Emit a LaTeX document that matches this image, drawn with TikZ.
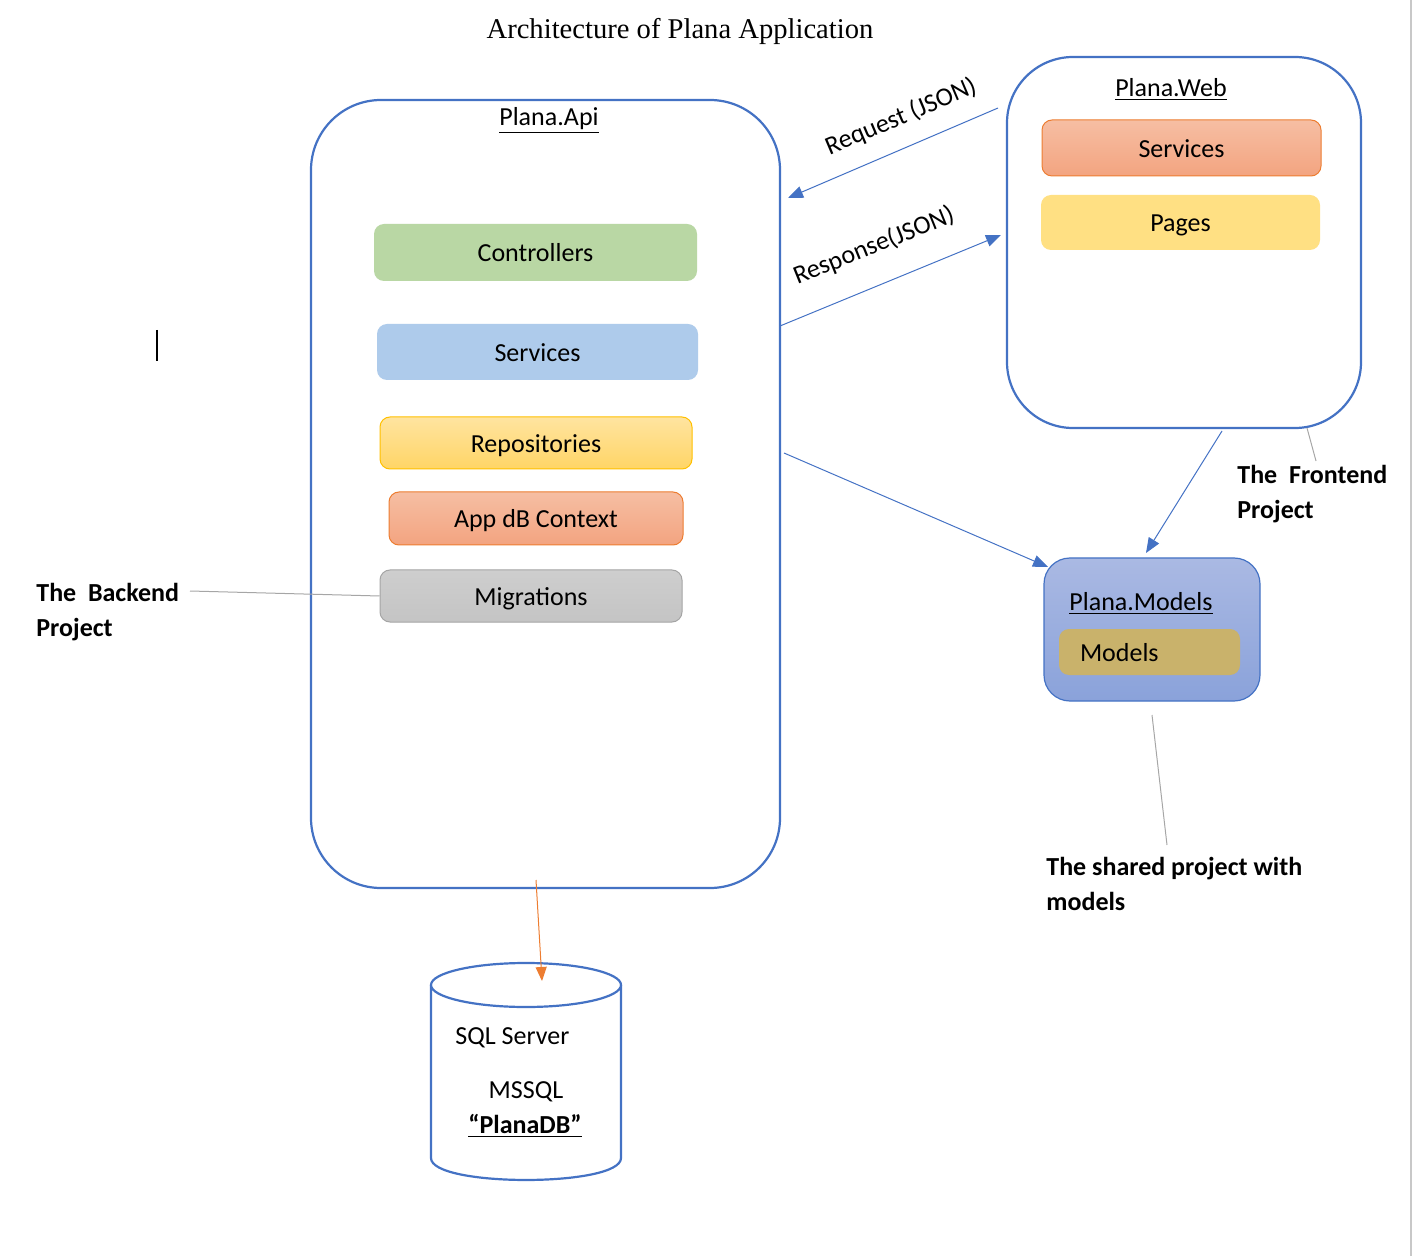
\documentclass[tikz,border=0pt]{standalone}
\usepackage{fontspec}
\setmainfont{Carlito}
\newfontfamily\titlefont{Liberation Serif}
\usetikzlibrary{arrows.meta,calc}

\definecolor{frameblue}{RGB}{68,114,196}
\definecolor{ctrlgreen}{RGB}{185,215,164}
\definecolor{svcblue}{RGB}{174,203,235}
\definecolor{repotop}{RGB}{255,228,160}
\definecolor{repobot}{RGB}{255,213,102}
\definecolor{repoedge}{RGB}{255,192,0}
\definecolor{ctxtop}{RGB}{246,190,163}
\definecolor{ctxbot}{RGB}{243,164,128}
\definecolor{ctxedge}{RGB}{237,125,49}
\definecolor{migtop}{RGB}{206,206,206}
\definecolor{migbot}{RGB}{196,196,196}
\definecolor{migedge}{RGB}{165,165,165}
\definecolor{pagesyellow}{RGB}{255,224,131}
\definecolor{modtop}{RGB}{170,185,227}
\definecolor{modbot}{RGB}{138,162,218}
\definecolor{modtan}{RGB}{201,178,107}
\definecolor{dborange}{RGB}{237,125,49}
\definecolor{calloutgray}{RGB}{166,166,166}
\definecolor{pagegray}{RGB}{200,200,200}

\begin{document}
\begin{tikzpicture}[x=0.5pt,y=-0.5pt,
  project/.style={draw=frameblue, line width=1.1pt, fill=white, inner sep=0pt},
  layer/.style={rounded corners=5pt, inner sep=0pt, line width=0.5pt,
    font=\fontsize{13}{15}\selectfont, text height=9.5pt, text depth=0pt},
  title/.style={font=\fontsize{13}{15}\selectfont, inner sep=0pt, text height=9.5pt, text depth=0pt},
  flow/.style={draw=frameblue, line width=0.5pt, -{Triangle[length=7.5pt,width=6pt]}},
  dbflow/.style={draw=dborange, line width=0.5pt, -{Triangle[length=7pt,width=5.5pt]}},
  callout/.style={draw=calloutgray, line width=0.5pt},
  note/.style={font=\bfseries\fontsize{13}{17.5}\selectfont, align=left, anchor=west, inner sep=0pt},
  flowlabel/.style={font=\fontsize{13}{15}\selectfont, inner sep=0pt}
]
\useasboundingbox (0,0) rectangle (1413,1256);

% page edge
\draw[pagegray, line width=1pt] (1411,0) -- (1411,1256);

% heading
\node[inner sep=0pt, font=\titlefont\fontsize{14.3}{16}\selectfont] (heading) at (680,31) {Architecture of Plana Application};

% text cursor
\draw[black, line width=1pt] (157,330) -- (157,361);

% ---------- backend project ----------
\node[project, rounded corners=35pt, minimum width=234.5pt, minimum height=394pt] (api) at (545.5,494) {};
\node[title] (apititle) at (549,116) {\underline{Plana.Api}};
\node[layer, fill=ctrlgreen, minimum width=161.5pt, minimum height=28.5pt] (ctrl) at (535.5,252.5) {Controllers};
\node[layer, fill=svcblue, minimum width=160.5pt, minimum height=28pt] (svc) at (537.5,352) {Services};
\node[layer, draw=repoedge, top color=repotop, bottom color=repobot, minimum width=156pt, minimum height=26pt] (repo) at (536,443) {Repositories};
\node[layer, draw=ctxedge, top color=ctxtop, bottom color=ctxbot, minimum width=147pt, minimum height=26.5pt] (ctx) at (536,518.5) {App dB Context};
\node[layer, draw=migedge, top color=migtop, bottom color=migbot, minimum width=151pt, minimum height=26pt] (mig) at (531,596) {Migrations};

% ---------- frontend project ----------
\node[project, rounded corners=33pt, minimum width=177pt, minimum height=185.5pt] (web) at (1184,242.5) {};
\node[title] (webtitle) at (1171,87) {\underline{Plana.Web}};
\node[layer, draw=ctxedge, top color=ctxtop, bottom color=ctxbot, minimum width=139.5pt, minimum height=28pt] (websvc) at (1181.5,148) {Services};
\node[layer, fill=pagesyellow, minimum width=139.5pt, minimum height=27.5pt] (pages) at (1180.5,222.5) {Pages};

% ---------- shared models project ----------
\node[draw=frameblue, line width=0.6pt, rounded corners=13pt, top color=modtop, bottom color=modbot, inner sep=0pt, minimum width=108pt, minimum height=71.5pt] (models) at (1152,629.5) {};
\node[title] (modtitle) at (1141,601) {\underline{Plana.Models}};
\node[layer, fill=modtan, minimum width=90.5pt, minimum height=23pt, text width=69.5pt, inner xsep=10.5pt, align=left] (modinner) at (1149.5,652) {Models};

% ---------- database ----------
\draw[frameblue, line width=1.1pt, fill=white]
  (431,985) -- (431,1158) .. controls (431,1187.3) and (621,1187.3) .. (621,1158) -- (621,985);
\draw[frameblue, line width=1.1pt, fill=white] (526,985) ellipse [x radius=95, y radius=22];
\node[flowlabel, anchor=west] (sqlsrv) at (455,1038) {SQL Server};
\node[flowlabel] (mssql) at (526,1092) {MSSQL};
\node[flowlabel, font=\bfseries\fontsize{13}{15}\selectfont] (dbname) at (525,1126) {\underline{“PlanaDB”}};
\coordinate (dbtop) at (542,981);

% ---------- connectors ----------
\coordinate (reqfrom) at (998,108);
\coordinate (reqto) at (788,198);
\coordinate (resfrom) at (780,326);
\coordinate (resto) at (1001,235);
\coordinate (apiout) at (784,453);
\coordinate (modin) at (1048,567);
\coordinate (webout) at (1222,431);
\coordinate (modtop) at (1146,553);
\coordinate (apibottom) at (536,880);

\draw[flow] (reqfrom) -- (reqto);
\draw[flow] (resfrom) -- (resto);
\draw[flow] (apiout) -- (modin);
\draw[flow] (webout) -- (modtop);
\draw[dbflow] (apibottom) -- (dbtop);

\node[flowlabel, rotate=23] (reqlabel) at (901,117) {Request (JSON)};
\node[flowlabel, rotate=22] (reslabel) at (874,246) {Response(JSON)};

% ---------- notes ----------
\node[note] (backnote) at (36,612) {The\ \ Backend\\Project};
\node[note] (frontnote) at (1237,494) {The\ \ Frontend\\Project};
\node[note] (sharednote) at (1046,883.5) {The shared project with\\models};

\coordinate (backtip) at (190,591);
\coordinate (fronttip) at (1307,428);
\coordinate (frontend) at (1316,461);
\coordinate (sharedtip) at (1152,715);
\coordinate (sharedend) at (1167,845);
\draw[callout] (backtip) -- (mig.west);
\draw[callout] (fronttip) -- (frontend);
\draw[callout] (sharedtip) -- (sharedend);
\end{tikzpicture}
\end{document}
